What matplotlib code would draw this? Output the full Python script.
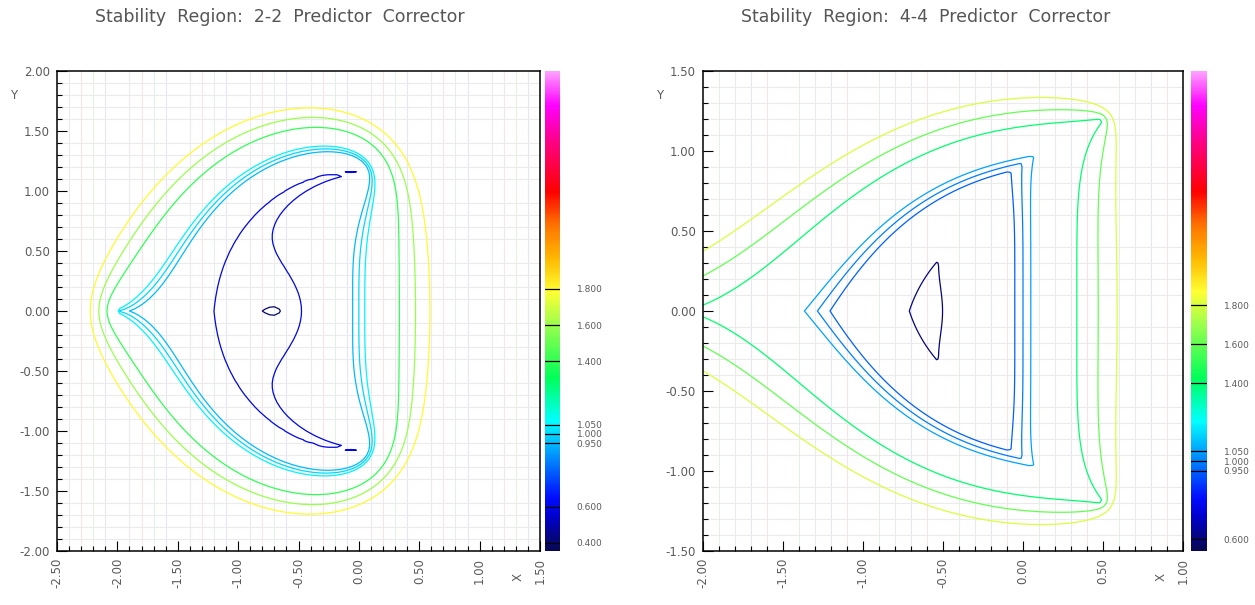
import numpy as np
import matplotlib
matplotlib.use("Agg")
import matplotlib.pyplot as plt
from matplotlib.colors import LinearSegmentedColormap, Normalize
from matplotlib.cm import ScalarMappable
from matplotlib.ticker import MultipleLocator, FormatStrFormatter

# predictor (Adams-Bashforth) and corrector (Adams-Moulton) weights
ab2 = np.array([3.0, -1.0]) / 2.0
am2 = np.array([1.0, 1.0]) / 2.0
ab4 = np.array([55.0, -59.0, 37.0, -9.0]) / 24.0
am4 = np.array([9.0, 19.0, -5.0, 1.0]) / 24.0

titles = ["Stability  Region:  2-2  Predictor  Corrector",
          "Stability  Region:  4-4  Predictor  Corrector"]
levels_22 = [0.4, 0.6, 0.95, 1.0, 1.05, 1.4, 1.6, 1.8]
levels_44 = [0.6, 0.95, 1.0, 1.05, 1.4, 1.6, 1.8]
xlim_22 = (-2.5, 1.5)
ylim_22 = (-2.0, 2.0)
xlim_44 = (-2.0, 1.0)
ylim_44 = (-1.5, 1.5)
crange_22 = (0.355, 3.0)
crange_44 = (0.54, 3.0)

# colour table, bottom navy -> blue -> cyan -> green -> yellow -> red -> pink
rain = LinearSegmentedColormap.from_list("rain", [
    (0.00, (0.03, 0.03, 0.32)),
    (0.07, (0.00, 0.00, 0.80)),
    (0.11, (0.00, 0.05, 1.00)),
    (0.16, (0.00, 0.35, 1.00)),
    (0.21, (0.00, 0.65, 1.00)),
    (0.27, (0.00, 1.00, 1.00)),
    (0.36, (0.00, 1.00, 0.35)),
    (0.47, (0.60, 1.00, 0.30)),
    (0.54, (1.00, 1.00, 0.20)),
    (0.61, (1.00, 0.72, 0.00)),
    (0.68, (1.00, 0.45, 0.00)),
    (0.75, (1.00, 0.00, 0.00)),
    (0.85, (1.00, 0.00, 0.50)),
    (0.93, (1.00, 0.00, 1.00)),
    (1.00, (1.00, 0.62, 1.00)),
])

TXT = "#5a5a5a"
tan, gray, pink, green, blue = "#e6dacf", "#ebebeb", "#f8e4e4", "#e2f1e2", "#e5e5f8"


def amplification(pred, corr, xlim, ylim, n):
    """max |root| of the PECE characteristic polynomial on a grid of z = h*lambda"""
    x = np.linspace(xlim[0], xlim[1], n)
    y = np.linspace(ylim[0], ylim[1], n)
    X, Y = np.meshgrid(x, y)
    z = (X + 1j * Y).ravel()
    k = len(pred)
    c = np.zeros((z.size, k + 1), complex)
    c[:, 0] = 1.0
    c[:, 1] -= 1.0 + corr[0] * z
    for j, b in enumerate(pred):
        c[:, 1 + j] -= corr[0] * b * z**2
    for j, b in enumerate(corr[1:]):
        c[:, 1 + j] -= b * z
    comp = np.zeros((z.size, k, k), complex)
    comp[:, 0, :] = -c[:, 1:]
    for i in range(1, k):
        comp[:, i, i - 1] = 1.0
    r = np.abs(np.linalg.eigvals(comp)).max(axis=1)
    return X, Y, r.reshape(X.shape)


def panel(ax, cax, pred, corr, xlim, ylim, levels, crange, vcycle, title, tx, n):
    X, Y, R = amplification(pred, corr, xlim, ylim, n)
    norm = Normalize(vmin=crange[0], vmax=crange[1])

    ax.set_xlim(xlim)
    ax.set_ylim(ylim)
    ax.xaxis.set_major_locator(MultipleLocator(0.5))
    ax.xaxis.set_minor_locator(MultipleLocator(0.1))
    ax.yaxis.set_major_locator(MultipleLocator(0.5))
    ax.yaxis.set_minor_locator(MultipleLocator(0.1))
    ax.xaxis.set_major_formatter(FormatStrFormatter("%.2f"))
    ax.yaxis.set_major_formatter(FormatStrFormatter("%.2f"))
    ax.tick_params(which="both", direction="in", top=False, right=False,
                   labelsize=8.5, labelcolor=TXT, width=0.8)
    ax.tick_params(which="major", length=7, pad=5)
    ax.tick_params(which="minor", length=3.5)
    ax.tick_params(axis="x", labelrotation=90)
    for s in ax.spines.values():
        s.set_linewidth(1.1)

    # faint coloured grid, every 0.1
    for v in ax.xaxis.get_minorticklocs():
        if xlim[0] < v < xlim[1]:
            ax.axvline(v, color=vcycle[int(round(v / 0.1)) % 5], lw=0.8, zorder=0)
    for v in ax.yaxis.get_minorticklocs():
        if ylim[0] < v < ylim[1]:
            major = int(round(v / 0.1)) % 5 == 0
            ax.axhline(v, color="#dcdcdc" if major else gray, lw=0.8, zorder=0)

    ax.contour(X, Y, R, levels=levels, cmap=rain, norm=norm, linewidths=0.9, zorder=2)

    ax.text(0.955, -0.055, "X", transform=ax.transAxes, rotation=90,
            ha="center", va="center", fontsize=8.5, color=TXT)
    ax.text(-0.09, 0.948, "Y", transform=ax.transAxes,
            ha="center", va="center", fontsize=8.5, color=TXT)
    fig.text(tx, 0.972, title, ha="center", va="center", fontsize=12.5, color="#555555")

    cb = fig.colorbar(ScalarMappable(norm=norm, cmap=rain), cax=cax, ticks=levels)
    cb.outline.set_visible(False)
    cb.ax.yaxis.set_major_formatter(FormatStrFormatter("%.3f"))
    cb.ax.tick_params(length=0, pad=12, labelsize=6.5, labelcolor=TXT)
    for lv in levels:
        cb.ax.axhline(lv, color="black", lw=0.9)


fig = plt.figure(figsize=(12.55, 6.05), dpi=100)
W, H = 1255.0, 605.0
ax1 = fig.add_axes([57 / W, 1 - 551 / H, 483 / W, 480 / H])
cax1 = fig.add_axes([545 / W, 1 - 551 / H, 15 / W, 480 / H])
ax2 = fig.add_axes([703 / W, 1 - 551 / H, 480 / W, 480 / H])
cax2 = fig.add_axes([1191 / W, 1 - 551 / H, 16 / W, 480 / H])

panel(ax1, cax1, ab2, am2, xlim_22, ylim_22, levels_22, crange_22,
      [tan, gray, pink, green, blue], titles[0], 280 / W, 101)
panel(ax2, cax2, ab4, am4, xlim_44, ylim_44, levels_44, crange_44,
      [tan, green, gray, blue, pink], titles[1], 926 / W, 151)

fig.savefig("out.png", dpi=100)
